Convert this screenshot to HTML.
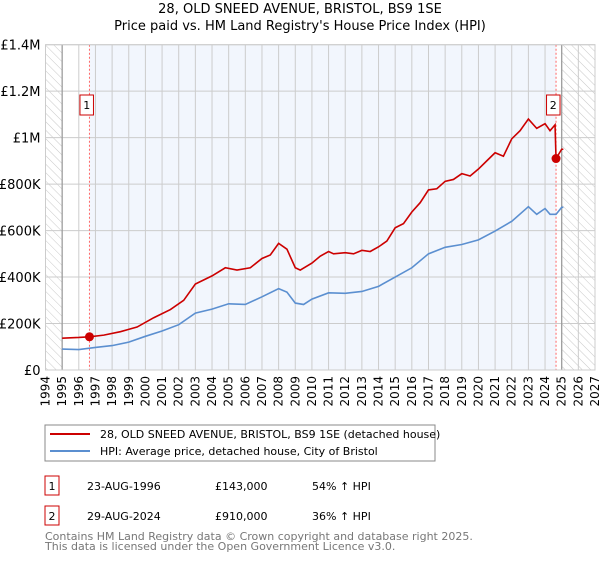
<!DOCTYPE html>
<html><head><meta charset="utf-8"><style>
body{margin:0;background:#fff;font-family:"Liberation Sans","DejaVu Sans",sans-serif;}
svg text{font-family:"DejaVu Sans","Liberation Sans",sans-serif;}
</style></head><body>
<svg id="c" width="600" height="560">
<defs><pattern id="hatch" width="6" height="6" patternUnits="userSpaceOnUse" patternTransform="rotate(-45)"><line x1="0" y1="0" x2="0" y2="6" stroke="#bbb" stroke-width="0.8"/></pattern></defs>
<text x="300" y="13" text-anchor="middle" font-size="13">28, OLD SNEED AVENUE, BRISTOL, BS9 1SE</text>
<text x="300" y="30" text-anchor="middle" font-size="13">Price paid vs. HM Land Registry's House Price Index (HPI)</text>
<g id="plot"></g>
<rect x="45" y="425" width="390" height="36" fill="#fff" stroke="#888"/>
<line x1="50" y1="434" x2="90" y2="434" stroke="#cc0000" stroke-width="2"/>
<text x="100" y="438" font-size="11">28, OLD SNEED AVENUE, BRISTOL, BS9 1SE (detached house)</text>
<line x1="50" y1="451" x2="90" y2="451" stroke="#5b8fd0" stroke-width="2"/>
<text x="100" y="455" font-size="11">HPI: Average price, detached house, City of Bristol</text>
<g>
<rect x="45" y="476" width="14" height="19" fill="#fff" stroke="#cc0000"/>
<text x="52" y="490" font-size="11" text-anchor="middle">1</text>
<text x="87" y="490" font-size="11">23-AUG-1996</text>
<text x="215" y="490" font-size="11">£143,000</text>
<text x="312" y="490" font-size="11">54% ↑ HPI</text></g>
<g>
<rect x="45" y="506" width="14" height="19" fill="#fff" stroke="#cc0000"/>
<text x="52" y="520" font-size="11" text-anchor="middle">2</text>
<text x="87" y="520" font-size="11">29-AUG-2024</text>
<text x="215" y="520" font-size="11">£910,000</text>
<text x="312" y="520" font-size="11">36% ↑ HPI</text></g>
<text x="45" y="540" font-size="11" fill="#777">Contains HM Land Registry data © Crown copyright and database right 2025.</text>
<text x="45" y="550" font-size="11" fill="#777">This data is licensed under the Open Government Licence v3.0.</text>
</svg>
<script>
const redYears=[1995,1996,1996.64,1997.5,1998.5,1999.5,2000.5,2001.5,2002.3,2003,2004,2004.8,2005.5,2006.3,2007,2007.5,2008,2008.5,2009,2009.3,2010,2010.5,2011,2011.3,2012,2012.5,2013,2013.5,2014,2014.5,2015,2015.5,2016,2016.5,2017,2017.5,2018,2018.5,2019,2019.5,2020,2020.5,2021,2021.5,2022,2022.5,2023,2023.5,2024,2024.3,2024.6,2024.66,2025,2025.1];
const redValues=[137,140,143,150,165,185,225,260,300,370,405,440,430,440,480,495,545,520,440,430,460,490,510,500,505,500,515,510,530,555,612,630,680,720,775,780,812,820,845,835,865,900,935,920,995,1030,1080,1040,1060,1030,1055,910,950,950];
const blueYears=[1995,1996,1997,1998,1999,2000,2001,2002,2003,2004,2005,2006,2007,2008,2008.5,2009,2009.5,2010,2011,2012,2013,2014,2015,2016,2017,2018,2019,2020,2021,2022,2023,2023.5,2024,2024.3,2024.66,2025,2025.1];
const blueValues=[90,88,97,105,120,145,168,195,245,262,285,282,315,350,335,288,282,305,332,330,338,360,400,440,500,528,540,560,598,640,703,670,695,670,670,700,700];
const yTicks=[0,200,400,600,800,1000,1200,1400];
const yLabels=["£0","£200K","£400K","£600K","£800K","£1M","£1.2M","£1.4M"];
const xTicks=[];for(let y=1994;y<=2027;y++)xTicks.push(y);
const sales=[[1996.64,143,"1"],[2024.66,910,"2"]];
const X0=45.5,X1=595,Y0=370,Y1=44.7;
const xs=v=>X0+(v-1994)/33*(X1-X0);
const ys=v=>Y0-(v/1400)*(Y0-Y1);
const g=document.getElementById('plot');const NS="http://www.w3.org/2000/svg";
function mk(t,a){const e=document.createElementNS(NS,t);for(const k in a)e.setAttribute(k,a[k]);g.appendChild(e);return e;}
let e;
e=mk('rect',{x:X0,y:Y1,width:X1-X0,height:Y0-Y1,fill:'#fff'});


e=mk('rect',{x:xs(1996.64),y:Y1,width:xs(2024.66)-xs(1996.64),height:Y0-Y1,fill:'#f2f6fd'});


e=mk('rect',{x:X0,y:Y1,width:xs(1995)-X0,height:Y0-Y1,fill:'url(#hatch)'});


e=mk('rect',{x:xs(2025),y:Y1,width:X1-xs(2025),height:Y0-Y1,fill:'url(#hatch)'});


xTicks.forEach(y=>{e=mk('line',{x1:xs(y),x2:xs(y),y1:Y1,y2:Y0,stroke:'#ccc','stroke-width':1});


const t=mk('text',{x:0,y:0,'font-size':12,'text-anchor':'end',transform:`translate(${xs(y)+4},${Y0+6}) rotate(-90)`});t.textContent=y;

});
yTicks.forEach((v,i)=>{e=mk('line',{x1:X0,x2:X1,y1:ys(v),y2:ys(v),stroke:'#ccc','stroke-width':1});


const t=mk('text',{x:X0-5,y:ys(v)+5,'font-size':13,'text-anchor':'end'});t.textContent=yLabels[i];

});
[1995,2025].forEach(y=>{e=mk('line',{x1:xs(y),x2:xs(y),y1:Y1,y2:Y0,stroke:'#999','stroke-width':1.2});

});
sales.forEach(s=>{e=mk('line',{x1:xs(s[0]),x2:xs(s[0]),y1:Y1,y2:Y0,stroke:'#f66','stroke-dasharray':'2,2','stroke-width':1});

});
e=mk('polyline',{points:blueYears.map((y,i)=>xs(y)+','+ys(blueValues[i])).join(' '),fill:'none',stroke:'#5b8fd0','stroke-width':1.6});


e=mk('polyline',{points:redYears.map((y,i)=>xs(y)+','+ys(redValues[i])).join(' '),fill:'none',stroke:'#cc0000','stroke-width':1.6});


sales.forEach(s=>{e=mk('circle',{cx:xs(s[0]),cy:ys(s[1]),r:4.5,fill:'#cc0000'});


e=mk('rect',{x:xs(s[0])-9.5,y:95,width:13.5,height:20,fill:'#fff',stroke:'#cc0000'});


const t=mk('text',{x:xs(s[0])-2.75,y:109,'font-size':11,'text-anchor':'middle'});t.textContent=s[2];

});
e=mk('rect',{x:X0,y:Y1,width:X1-X0,height:Y0-Y1,fill:'none',stroke:'#ccc'});


</script>
</body></html>
